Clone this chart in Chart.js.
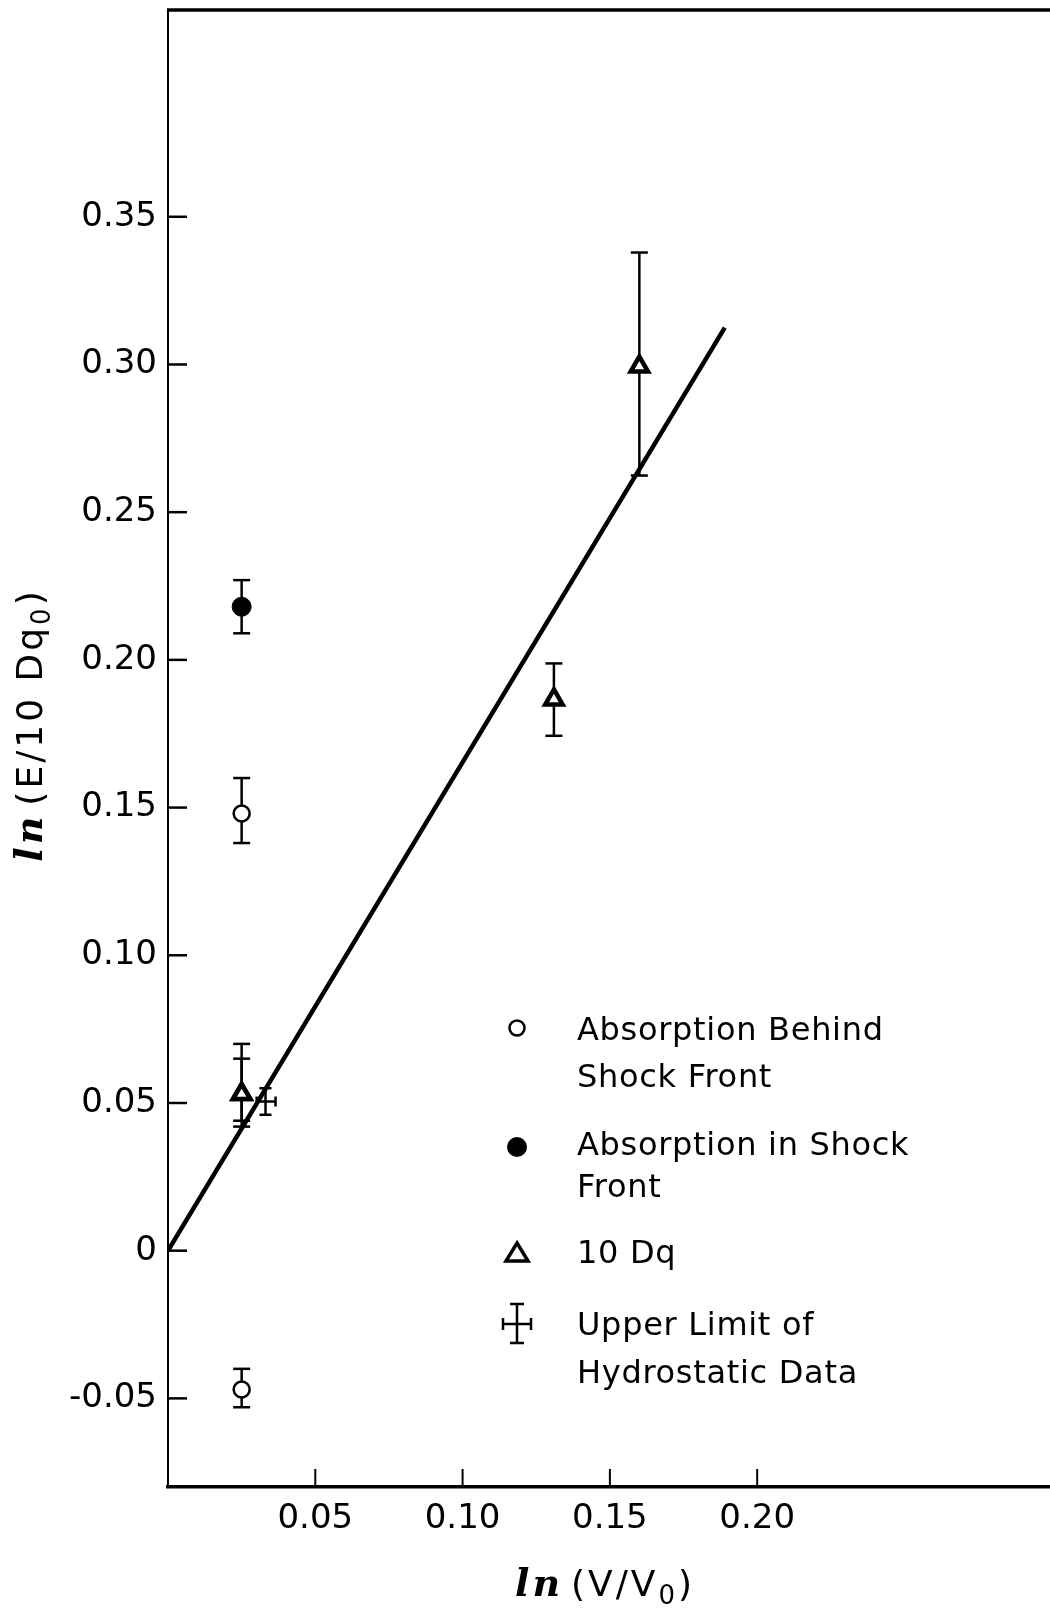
<!DOCTYPE html>
<html>
<head>
<meta charset="utf-8">
<script src="https://cdn.jsdelivr.net/npm/chart.js@4.4.1/dist/chart.umd.min.js"></script>
<style>
  html, body { margin: 0; padding: 0; background: #fff; overflow: hidden; }
  #wrap { width: 1050px; height: 1609px; }
</style>
</head>
<body>
<div id="wrap"><canvas id="plot" width="1050" height="1609"></canvas></div>
<script>
// absorption behind the shock front (open circles)
const behindX = [0.025, 0.025];
const behindY = [0.148, -0.047];
const behindLo = [0.138, -0.053];
const behindHi = [0.160, -0.040];

// absorption in the shock front (filled circle)
const frontX = [0.025];
const frontY = [0.218];
const frontLo = [0.209];
const frontHi = [0.227];

// 10 Dq (triangles); first two are overlapping readings at the same volume
const dqX = [0.025, 0.025, 0.131, 0.160];
const dqY = [0.053, 0.053, 0.1866, 0.2993];
const dqLo = [0.042, 0.044, 0.1743, 0.2624];
const dqHi = [0.070, 0.065, 0.1988, 0.3379];

// upper limit of hydrostatic data (cross)
const hydroX = [0.0331];
const hydroY = [0.0505];
const hydroYLo = [0.046];
const hydroYHi = [0.055];
const hydroXLo = [0.0301];
const hydroXHi = [0.0365];

// straight line through the origin
const fitX = [0, 0.189];
const fitY = [0, 0.3125];

const xTicks = [0.05, 0.10, 0.15, 0.20];
const yTicks = [-0.05, 0, 0.05, 0.10, 0.15, 0.20, 0.25, 0.30, 0.35];
const legendLabels = [
  ['Absorption Behind', 'Shock Front'],
  ['Absorption in Shock', 'Front'],
  ['10 Dq'],
  ['Upper Limit of', 'Hydrostatic Data']
];

const SANS = '"DejaVu Sans", sans-serif';
const SCRIPT = 'italic bold 38px "DejaVu Serif", serif';

function pts(xs, ys) {
  return xs.map((x, i) => ({ x: x, y: ys[i] }));
}

function fmtTick(v) {
  if (Math.abs(v) < 1e-9) return '0';
  return (v < 0 ? '-' : '') + Math.abs(v).toFixed(2);
}

// draw a run of text pieces, each with its own font and vertical shift
function drawParts(ctx, parts, x, y) {
  let w = 0;
  parts.forEach(p => { ctx.font = p.font; w += ctx.measureText(p.text).width + (p.gap || 0); });
  let cx = x - w / 2;
  parts.forEach(p => {
    ctx.font = p.font;
    ctx.fillText(p.text, cx, y + (p.dy || 0));
    cx += ctx.measureText(p.text).width + (p.gap || 0);
  });
}

function cap(ctx, x, y, half) {
  ctx.beginPath();
  ctx.moveTo(x - half, y);
  ctx.lineTo(x + half, y);
  ctx.stroke();
}

function vbar(ctx, xs, ys, lo, hi, half) {
  ctx.beginPath();
  ctx.moveTo(xs, ys(lo));
  ctx.lineTo(xs, ys(hi));
  ctx.stroke();
  cap(ctx, xs, ys(lo), half);
  cap(ctx, xs, ys(hi), half);
}

const errorBars = {
  id: 'errorBars',
  beforeDatasetsDraw(chart) {
    const ctx = chart.ctx;
    const xs = chart.scales.x, ys = chart.scales.y;
    const py = v => ys.getPixelForValue(v);
    ctx.save();
    ctx.strokeStyle = '#000';
    ctx.lineWidth = 2.5;
    behindX.forEach((x, i) => vbar(ctx, xs.getPixelForValue(x), py, behindLo[i], behindHi[i], 8.5));
    frontX.forEach((x, i) => vbar(ctx, xs.getPixelForValue(x), py, frontLo[i], frontHi[i], 8.5));
    dqX.forEach((x, i) => vbar(ctx, xs.getPixelForValue(x), py, dqLo[i], dqHi[i], 8.5));
    hydroX.forEach((x, i) => {
      const px = xs.getPixelForValue(x);
      vbar(ctx, px, py, hydroYLo[i], hydroYHi[i], 6);
      const l = xs.getPixelForValue(hydroXLo[i]), r = xs.getPixelForValue(hydroXHi[i]);
      const yy = py(hydroY[i]);
      ctx.beginPath();
      ctx.moveTo(l, yy); ctx.lineTo(r, yy);
      ctx.moveTo(l, yy - 5); ctx.lineTo(l, yy + 5);
      ctx.moveTo(r, yy - 5); ctx.lineTo(r, yy + 5);
      ctx.stroke();
    });
    ctx.restore();
  }
};

const frame = {
  id: 'frame',
  afterDraw(chart) {
    const ctx = chart.ctx;
    const a = chart.chartArea;
    const xs = chart.scales.x, ys = chart.scales.y;
    ctx.save();
    ctx.strokeStyle = '#000';
    // top edge of the frame
    ctx.lineWidth = 3.5;
    ctx.beginPath();
    ctx.moveTo(a.left - 1, a.top);
    ctx.lineTo(a.right + 2, a.top);
    ctx.stroke();
    // inward tick marks
    ctx.lineWidth = 2.5;
    yTicks.forEach(v => {
      const y = ys.getPixelForValue(v);
      ctx.beginPath(); ctx.moveTo(a.left, y); ctx.lineTo(a.left + 19, y); ctx.stroke();
    });
    ctx.lineWidth = 2;
    xTicks.forEach(v => {
      const x = xs.getPixelForValue(v);
      ctx.beginPath(); ctx.moveTo(x, a.bottom); ctx.lineTo(x, a.bottom - 18); ctx.stroke();
    });

    // axis titles
    ctx.fillStyle = '#000';
    ctx.textBaseline = 'alphabetic';
    ctx.textAlign = 'left';
    ctx.letterSpacing = '3px';
    drawParts(ctx, [
      { text: 'ln', font: SCRIPT, gap: 8 },
      { text: '(V/V', font: '36px ' + SANS },
      { text: '0', font: '26px ' + SANS, dy: 8 },
      { text: ')', font: '36px ' + SANS }
    ], 605, 1596);

    ctx.save();
    ctx.translate(42, 725);
    ctx.rotate(-Math.PI / 2);
    drawParts(ctx, [
      { text: 'ln', font: SCRIPT, gap: 8 },
      { text: '(E/10 Dq', font: '36px ' + SANS },
      { text: '0', font: '26px ' + SANS, dy: 8 },
      { text: ')', font: '36px ' + SANS }
    ], 0, 0);
    ctx.restore();

    // legend
    const lx = 517, tx = 577;
    ctx.letterSpacing = '0.7px';
    ctx.font = '32px ' + SANS;
    const rows = [[1040, 1087], [1155, 1197], [1263], [1335, 1383]];
    legendLabels.forEach((lines, i) => {
      lines.forEach((t, j) => ctx.fillText(t, tx, rows[i][j]));
    });
    ctx.lineWidth = 2.5;
    ctx.beginPath(); ctx.arc(lx, 1028, 7.5, 0, Math.PI * 2); ctx.stroke();
    ctx.beginPath(); ctx.arc(lx, 1147, 10, 0, Math.PI * 2); ctx.fill();
    ctx.lineWidth = 3.5;
    ctx.beginPath();
    ctx.moveTo(lx, 1243); ctx.lineTo(lx + 11, 1261); ctx.lineTo(lx - 11, 1261); ctx.closePath();
    ctx.stroke();
    ctx.lineWidth = 2.5;
    ctx.beginPath();
    ctx.moveTo(lx, 1304); ctx.lineTo(lx, 1343);
    ctx.moveTo(lx - 7, 1304); ctx.lineTo(lx + 7, 1304);
    ctx.moveTo(lx - 7, 1343); ctx.lineTo(lx + 7, 1343);
    ctx.moveTo(lx - 14, 1324); ctx.lineTo(lx + 14, 1324);
    ctx.moveTo(lx - 14, 1318); ctx.lineTo(lx - 14, 1330);
    ctx.moveTo(lx + 14, 1318); ctx.lineTo(lx + 14, 1330);
    ctx.stroke();
    ctx.restore();
  }
};

new Chart(document.getElementById('plot').getContext('2d'), {
  type: 'scatter',
  data: {
    datasets: [
      {
        label: 'fit', type: 'line', data: pts(fitX, fitY),
        borderColor: '#000', borderWidth: 4.5, pointRadius: 0, fill: false
      },
      {
        label: 'Absorption Behind Shock Front', data: pts(behindX, behindY),
        pointStyle: 'circle', pointRadius: 8, pointBackgroundColor: '#fff',
        pointBorderColor: '#000', pointBorderWidth: 2.5
      },
      {
        label: 'Absorption in Shock Front', data: pts(frontX, frontY),
        pointStyle: 'circle', pointRadius: 9.5, pointBackgroundColor: '#000',
        pointBorderColor: '#000', pointBorderWidth: 1
      },
      {
        label: '10 Dq', data: pts(dqX, dqY),
        pointStyle: 'triangle', pointRadius: 10, pointBackgroundColor: '#fff',
        pointBorderColor: '#000', pointBorderWidth: 4.5
      },
      {
        label: 'Upper Limit of Hydrostatic Data', data: pts(hydroX, hydroY),
        pointRadius: 0
      }
    ]
  },
  options: {
    responsive: false,
    animation: false,
    layout: { autoPadding: false, padding: { top: 10, right: 0, left: 0, bottom: 0 } },
    plugins: { legend: { display: false }, tooltip: { enabled: false } },
    scales: {
      x: {
        type: 'linear', min: 0, max: 0.2994,
        afterFit: s => {
          s.height = 122;
          s.paddingLeft = 0; s.paddingRight = 0;
        },
        afterBuildTicks: s => { s.ticks = xTicks.map(v => ({ value: v })); },
        grid: { display: false },
        border: { display: true, color: '#000', width: 3.5 },
        ticks: {
          color: '#000', padding: 4, maxRotation: 0,
          font: { family: SANS, size: 34 },
          callback: v => fmtTick(v)
        }
      },
      y: {
        type: 'linear', min: -0.08, max: 0.42,
        afterFit: s => {
          s.width = 168;
          s.paddingTop = 0; s.paddingBottom = 0;
        },
        afterBuildTicks: s => { s.ticks = yTicks.map(v => ({ value: v })); },
        grid: { display: false, drawTicks: false },
        border: { display: true, color: '#000', width: 2 },
        ticks: {
          color: '#000', padding: 11,
          font: { family: SANS, size: 34 },
          callback: v => fmtTick(v)
        }
      }
    }
  },
  plugins: [errorBars, frame]
});
</script>
</body>
</html>
